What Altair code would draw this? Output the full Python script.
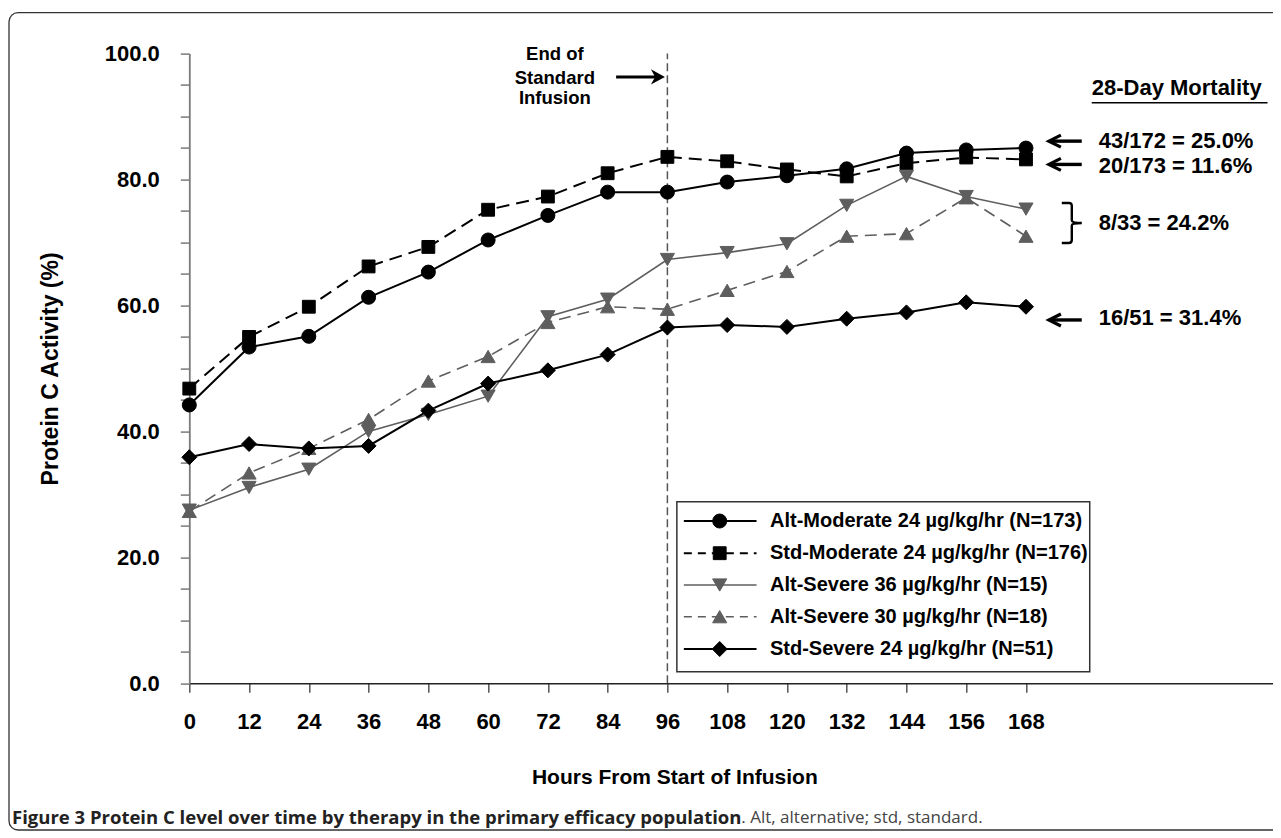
import altair as alt
import pandas as pd

# ---------------- data ----------------
hours = [0, 12, 24, 36, 48, 60, 72, 84, 96, 108, 120, 132, 144, 156, 168]
alt_moderate = [44.2, 53.4, 55.1, 61.3, 65.3, 70.4, 74.3, 78.0, 78.0, 79.6, 80.6, 81.7, 84.2, 84.7, 85.0]
std_moderate = [46.8, 55.0, 59.8, 66.2, 69.3, 75.2, 77.3, 81.0, 83.6, 82.9, 81.6, 80.5, 82.6, 83.5, 83.2]
alt_severe_36 = [27.5, 31.1, 34.0, 40.0, 42.7, 45.6, 58.2, 61.0, 67.3, 68.4, 69.8, 75.9, 80.5, 77.3, 75.3]
alt_severe_30 = [27.3, 33.4, 37.3, 41.9, 48.0, 51.9, 57.3, 59.8, 59.4, 62.4, 65.4, 71.0, 71.4, 77.1, 71.0]
std_severe = [35.9, 38.0, 37.3, 37.7, 43.3, 47.6, 49.7, 52.2, 56.5, 56.9, 56.6, 57.9, 58.9, 60.5, 59.8]

series_labels = [
    "Alt-Moderate 24 µg/kg/hr  (N=173)",
    "Std-Moderate 24 µg/kg/hr  (N=176)",
    "Alt-Severe 36 µg/kg/hr  (N=15)",
    "Alt-Severe 30 µg/kg/hr  (N=18)",
    "Std-Severe 24 µg/kg/hr  (N=51)",
]
series_values = [alt_moderate, std_moderate, alt_severe_36, alt_severe_30, std_severe]

mortality_title = "28-Day Mortality"
mortality_labels = ["43/172 = 25.0%", "20/173 = 11.6%", "8/33 = 24.2%", "16/51 = 31.4%"]
infusion_lines = ["End of", "Standard", "Infusion"]
y_ticks = [0, 5, 10, 15, 20, 25, 30, 35, 40, 45, 50, 55, 60, 65, 70, 75, 80, 85, 90, 95, 100]
caption_bold = "Figure 3 Protein C level over time by therapy in the primary efficacy population"
caption_rest = ". Alt, alternative; std, standard."

# ---------------- layout / style (not data) ----------------
FONT = "Liberation Sans"
X_MAX = 217.6
W, H = 1083.7, 629.7
PAD = {"left": 181.3, "top": 45.6, "right": 0, "bottom": 148.7}

styles = [
    dict(color="#000000", dash=None, shape="circle", size=196, width=2.0),
    dict(color="#000000", dash=[13, 7], shape="square", size=165, width=2.0),
    dict(color="#5e5e5e", dash=None, shape="triangle-down", size=200, width=1.6),
    dict(color="#5e5e5e", dash=[12, 7], shape="triangle-up", size=200, width=1.6),
    dict(color="#000000", dash=None, shape="diamond", size=225, width=2.0),
]

# annotation anchor positions in data units (hours, %)
mort_text_x = 182.6
mort_text_y = [86.1, 82.2, 73.1, 58.0]
arrow_tip_x, arrow_end_x = 172.6, 179.2
arrow_y = [86.1, 82.4, 57.7]
bracket_pos = (177.2, 73.1)
title_pos = (181.2, 93.5)
underline = (181.2, 216.5, 92.2)
infusion_x = 73.4
infusion_y = [99.9, 96.1, 92.9]
inf_arrow = (85.7, 94.6, 95.5, 96.3)

legend_box = (97.9, 180.8, 28.84, 1.84)
legend_seg = (99.3, 113.9)
legend_marker_x = 106.5
legend_text_x = 116.6
legend_rows = [25.77, 20.66, 15.61, 10.58, 5.44]

X_ENC = alt.X(
    "hours:Q",
    scale=alt.Scale(domain=[0, X_MAX], nice=False, zero=False),
    axis=alt.Axis(
        values=hours, format="d", title="Hours From Start of Infusion", grid=False,
        tickSize=9, tickColor="#555555", tickWidth=1.5,
        domainColor="#222222", domainWidth=1.5,
        labelFont=FONT, labelFontSize=22, labelFontWeight="bold", labelColor="#000000",
        labelPadding=36, labelBaseline="alphabetic", labelFlush=False, labelOverlap=False,
        titleFont=FONT, titleFontSize=21, titleFontWeight="bold", titleColor="#000000",
        titleX=485, titleY=93.7, titleAlign="center", titleBaseline="middle",
    ),
)
Y_ENC = alt.Y(
    "value:Q",
    scale=alt.Scale(domain=[0, 100], nice=False),
    axis=alt.Axis(
        values=y_ticks,
        labelExpr="datum.value % 20 === 0 ? format(datum.value, '.1f') : ''",
        title="Protein C Activity (%)", grid=False,
        tickSize=9, tickColor="#7a7a7a", tickWidth=1.5,
        domainColor="#7a7a7a", domainWidth=1.8,
        labelFont=FONT, labelFontSize=22, labelFontWeight="bold", labelColor="#000000",
        labelPadding=21, labelOverlap=False,
        titleFont=FONT, titleFontSize=23, titleFontWeight="bold", titleColor="#000000",
        titleX=-139.3, titleY=314.8, titleAngle=270, titleAlign="center", titleBaseline="middle",
    ),
)

layers = []

one = pd.DataFrame({"k": [0]})

# frame of the figure panel (decoration)
layers.append(
    alt.Chart(one).mark_rect(fillOpacity=0, stroke="#333333", strokeWidth=1.3, cornerRadius=9).encode(
        x=alt.value(-180.3), x2=alt.value(1110), y=alt.value(-40.9), y2=alt.value(776.4)
    )
)

# end-of-infusion dashed line
vline = pd.DataFrame({"hours": [96], "value": [0], "value2": [100]})
layers.append(
    alt.Chart(vline).mark_rule(color="#555555", strokeWidth=1.5, strokeDash=[8, 4]).encode(
        x=X_ENC, y=Y_ENC, y2="value2:Q"
    )
)

# series
for vals, st in zip(series_values, styles):
    df = pd.DataFrame({"hours": hours, "value": vals})
    kw = dict(color=st["color"], strokeWidth=st["width"])
    if st["dash"]:
        kw["strokeDash"] = st["dash"]
    layers.append(alt.Chart(df).mark_line(**kw).encode(x=X_ENC, y=Y_ENC))
for vals, st in zip(series_values, styles):
    df = pd.DataFrame({"hours": hours, "value": vals})
    layers.append(
        alt.Chart(df).mark_point(
            filled=True, shape=st["shape"], size=st["size"], color=st["color"], opacity=1,
            stroke=st["color"], strokeWidth=1
        ).encode(x=X_ENC, y=Y_ENC)
    )

# legend (drawn through the chart scales)
box = pd.DataFrame({"hours": [legend_box[0]], "hours2": [legend_box[1]],
                    "value": [legend_box[2]], "value2": [legend_box[3]]})
layers.append(
    alt.Chart(box).mark_rect(fill="#ffffff", stroke="#333333", strokeWidth=1.5).encode(
        x=X_ENC, x2="hours2:Q", y=Y_ENC, y2="value2:Q"
    )
)
for lab, ry, st in zip(series_labels, legend_rows, styles):
    seg = pd.DataFrame({"hours": [legend_seg[0]], "hours2": [legend_seg[1]], "value": [ry]})
    kw = dict(color=st["color"], strokeWidth=st["width"])
    if st["dash"]:
        kw["strokeDash"] = [8, 6]
    layers.append(alt.Chart(seg).mark_rule(**kw).encode(x=X_ENC, x2="hours2:Q", y=Y_ENC))
    mk = pd.DataFrame({"hours": [legend_marker_x], "value": [ry]})
    layers.append(
        alt.Chart(mk).mark_point(
            filled=True, shape=st["shape"], size=st["size"], color=st["color"], opacity=1,
            stroke=st["color"], strokeWidth=1
        ).encode(x=X_ENC, y=Y_ENC)
    )
    tx = pd.DataFrame({"hours": [legend_text_x], "value": [ry], "label": [lab]})
    layers.append(
        alt.Chart(tx).mark_text(
            align="left", baseline="middle", font=FONT, fontSize=20, fontWeight="bold", color="#000000"
        ).encode(x=X_ENC, y=Y_ENC, text="label:N")
    )

# 28-day mortality annotations
tdf = pd.DataFrame({"hours": [title_pos[0]], "value": [title_pos[1]], "label": [mortality_title]})
layers.append(
    alt.Chart(tdf).mark_text(align="left", baseline="alphabetic", font=FONT, fontSize=22,
                             fontWeight="bold", color="#000000").encode(x=X_ENC, y=Y_ENC, text="label:N")
)
udf = pd.DataFrame({"hours": [underline[0]], "hours2": [underline[1]], "value": [underline[2]]})
layers.append(
    alt.Chart(udf).mark_rule(color="#000000", strokeWidth=1.6).encode(x=X_ENC, x2="hours2:Q", y=Y_ENC)
)
mdf = pd.DataFrame({"hours": [mort_text_x] * 4, "value": mort_text_y, "label": mortality_labels})
layers.append(
    alt.Chart(mdf).mark_text(align="left", baseline="middle", font=FONT, fontSize=22,
                             fontWeight="bold", color="#000000").encode(x=X_ENC, y=Y_ENC, text="label:N")
)
adf = pd.DataFrame({"hours": [arrow_tip_x + 0.4] * 3, "hours2": [arrow_end_x] * 3, "value": arrow_y})
layers.append(
    alt.Chart(adf).mark_rule(color="#000000", strokeWidth=3.4).encode(x=X_ENC, x2="hours2:Q", y=Y_ENC)
)
hdf = pd.DataFrame({"hours": [arrow_tip_x] * 3, "value": arrow_y})
layers.append(
    alt.Chart(hdf).mark_point(shape="M1,-0.5L0,0L1,0.5", filled=False, size=576, color="#000000",
                              opacity=1, strokeWidth=3.2, strokeJoin="miter").encode(x=X_ENC, y=Y_ENC)
)
bdf = pd.DataFrame({"hours": [bracket_pos[0]], "value": [bracket_pos[1]]})
layers.append(
    alt.Chart(bdf).mark_point(
        shape="M-0.5,-1L-0.15,-1Q0,-1 0,-0.85L0,-0.12Q0,0 0.5,0Q0,0 0,0.12L0,0.85Q0,1 -0.15,1L-0.5,1",
        filled=False, size=1600, color="#000000", opacity=1, strokeWidth=2.4
    ).encode(x=X_ENC, y=Y_ENC)
)

# end of standard infusion label + arrow
idf = pd.DataFrame({"hours": [infusion_x] * 3, "value": infusion_y, "label": infusion_lines})
layers.append(
    alt.Chart(idf).mark_text(align="center", baseline="middle", font=FONT, fontSize=18.5,
                             fontWeight="bold", color="#000000").encode(x=X_ENC, y=Y_ENC, text="label:N")
)
iadf = pd.DataFrame({"hours": [inf_arrow[0]], "hours2": [inf_arrow[1]], "value": [inf_arrow[3]]})
layers.append(
    alt.Chart(iadf).mark_rule(color="#000000", strokeWidth=3).encode(x=X_ENC, x2="hours2:Q", y=Y_ENC)
)
ihdf = pd.DataFrame({"hours": [inf_arrow[2]], "value": [inf_arrow[3]]})
layers.append(
    alt.Chart(ihdf).mark_point(shape="M0,0L-1,-0.55L-0.7,0L-1,0.55Z", filled=True, size=784,
                               color="#000000", opacity=1, strokeWidth=0.5).encode(x=X_ENC, y=Y_ENC)
)

# caption (decoration below the plot)
cap1 = pd.DataFrame({"label": [caption_bold]})
layers.append(
    alt.Chart(cap1).mark_text(align="left", baseline="middle", font="Open Sans", fontSize=18.5,
                              fontWeight="bold", color="#222222").encode(
        x=alt.value(-177.3), y=alt.value(764.4), text="label:N")
)
cap2 = pd.DataFrame({"label": [caption_rest]})
layers.append(
    alt.Chart(cap2).mark_text(align="left", baseline="middle", font="Open Sans", fontSize=17,
                              color="#444444").encode(
        x=alt.value(552.0), y=alt.value(764.4), text="label:N")
)

chart = alt.layer(*layers).properties(
    width=W, height=H, padding=PAD, autosize=alt.AutoSizeParams(type="none"), background="#ffffff"
).configure_view(stroke=None)

chart.save("out.html", embed_options={"renderer": "svg", "actions": False})
